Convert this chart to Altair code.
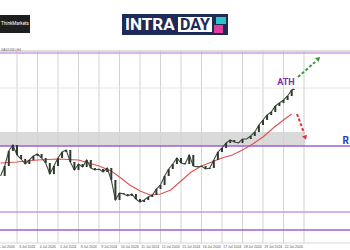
import altair as alt
import pandas as pd

# ---------------- data ----------------
bar_idx = list(range(-8, 136, 2)) + [135]
closes = [2324, 2334, 2349, 2355, 2345, 2341, 2336, 2340, 2344, 2346, 2342, 2337,
          2326, 2334, 2342, 2348, 2350, 2338, 2330, 2336, 2333, 2340, 2332, 2330,
          2331, 2328, 2332, 2320, 2300, 2307, 2306, 2304, 2306, 2301, 2298, 2300,
          2303, 2305, 2311, 2315, 2324, 2331, 2336, 2342, 2337, 2336, 2345, 2334,
          2333, 2334, 2331, 2332, 2340, 2348, 2352, 2357, 2360, 2358, 2357, 2361,
          2361, 2364, 2368, 2375, 2380, 2385, 2388, 2394, 2397, 2400, 2404, 2410, 2411]

ma_idx = [-8, 0, 10, 20, 30, 40, 46, 50, 55, 60, 65, 70, 75, 80, 85, 90, 95, 100,
          105, 110, 115, 120, 125, 130, 134]
ma_vals = [2337, 2338, 2340, 2341, 2340, 2334, 2329, 2323, 2315, 2309, 2305, 2306,
           2310, 2319, 2328, 2334, 2338, 2342, 2345, 2350, 2356, 2363, 2372, 2380, 2386]

grid_idx = [0, 10, 20, 30, 40, 50, 60, 70, 80, 90, 100, 110, 120, 130, 140]
date_idx = [-5, 5, 15, 25, 35, 45, 55, 65, 75, 85, 95, 105, 115, 125, 135]
date_labels = ["1 Jul 2024", "3 Jul 2024", "4 Jul 2024", "5 Jul 2024", "8 Jul 2024",
               "9 Jul 2024", "10 Jul 2024", "11 Jul 2024", "12 Jul 2024", "15 Jul 2024",
               "16 Jul 2024", "17 Jul 2024", "18 Jul 2024", "19 Jul 2024", "22 Jul 2024"]

top_level = 2447
frame_top = 2449
frame_bottom = 2257
resistance = 2354
zone_top = 2368
zone_end = 140.5
support_levels = [2288, 2270]
support_colors = ["#c898e6", "#9a62d8"]
hgrid = [2412]

green_arrow_i = [137.1, 145.4]
green_arrow_p = [2423, 2438]
green_head = (146.8, 2441)
red_arrow_i = [136.6, 140.0]
red_arrow_p = [2386, 2367]
red_head = (140.5, 2363)

ath_pos = (131.2, 2418)
r_pos = (158.8, 2359)
label_p = 2253

# ---------------- chart ----------------
xs = alt.Scale(domain=[-8.29, 162.44], nice=False, zero=False, padding=0)
ys = alt.Scale(domain=[2250, 2500], nice=False, zero=False, padding=0)

def X(f):
    return alt.X(f, type="quantitative", scale=xs, axis=None)

def Y(f):
    return alt.Y(f, type="quantitative", scale=ys, axis=None)

one = pd.DataFrame({"d": [0]})

price = pd.DataFrame({"i": bar_idx, "c": closes})
ma = pd.DataFrame({"i": ma_idx, "v": ma_vals})
grid = pd.DataFrame({"i": grid_idx, "y0": [frame_top] * len(grid_idx),
                     "y1": [frame_bottom] * len(grid_idx)})
dates = pd.DataFrame({"i": date_idx, "t": date_labels, "p": [label_p] * len(date_idx)})
band = pd.DataFrame({"x0": [-9], "x1": [zone_end], "lo": [resistance], "hi": [zone_top]})

layers = []

layers.append(alt.Chart(band).mark_rect(color="#dadada").encode(
    x=X("x0"), x2="x1", y=Y("lo"), y2="hi"))

layers.append(alt.Chart(grid).mark_rule(color="#d2d2d2", strokeWidth=1).encode(
    x=X("i"), y=Y("y0"), y2="y1"))

layers.append(alt.Chart(pd.DataFrame({"p": hgrid})).mark_rule(
    color="#e4e4e4", strokeWidth=1).encode(y=Y("p")))

layers.append(alt.Chart(pd.DataFrame({"p": [frame_top]})).mark_rule(
    color="#bdbdbd", strokeWidth=1).encode(y=Y("p")))
layers.append(alt.Chart(pd.DataFrame({"p": [top_level]})).mark_rule(
    color="#c9a2e2", strokeWidth=1.5).encode(y=Y("p")))
layers.append(alt.Chart(pd.DataFrame({"p": [resistance]})).mark_rule(
    color="#9d5fd8", strokeWidth=1.5).encode(y=Y("p")))
layers.append(alt.Chart(pd.DataFrame({"p": support_levels, "c": support_colors})).mark_rule(
    strokeWidth=1.5).encode(y=Y("p"), color=alt.Color("c:N", scale=None)))
layers.append(alt.Chart(pd.DataFrame({"p": [frame_bottom]})).mark_rule(
    color="#d6d6d6", strokeWidth=1).encode(y=Y("p")))

layers.append(alt.Chart(dates).mark_text(fontSize=3.5, color="#555555").encode(
    x=X("i"), y=Y("p"), text="t:N"))

layers.append(alt.Chart(ma).mark_line(color="#d9534f", strokeWidth=1.1).encode(
    x=X("i"), y=Y("v")))

layers.append(alt.Chart(price).mark_line(color="#3f4b3f", strokeWidth=1.1).encode(
    x=X("i"), y=Y("c")))
layers.append(alt.Chart(price).transform_window(
    o="lag(c)", sort=[alt.SortField("i")]).transform_filter(
    "datum.o != null").mark_bar(width=2, color="#2e3a2e").encode(
    x=X("i"), y=Y("o"), y2="c"))

layers.append(alt.Chart(pd.DataFrame({"i": green_arrow_i, "p": green_arrow_p})).mark_line(
    color="#3c9a3c", strokeWidth=2, strokeDash=[3, 2]).encode(x=X("i"), y=Y("p")))
layers.append(alt.Chart(pd.DataFrame({"i": [green_head[0]], "p": [green_head[1]]})).mark_point(
    shape="triangle", filled=True, size=28, angle=48, color="#3c9a3c", opacity=1).encode(
    x=X("i"), y=Y("p")))
layers.append(alt.Chart(pd.DataFrame({"i": red_arrow_i, "p": red_arrow_p})).mark_line(
    color="#e0303a", strokeWidth=2, strokeDash=[3, 2]).encode(x=X("i"), y=Y("p")))
layers.append(alt.Chart(pd.DataFrame({"i": [red_head[0]], "p": [red_head[1]]})).mark_point(
    shape="triangle", filled=True, size=28, angle=160, color="#e0303a", opacity=1).encode(
    x=X("i"), y=Y("p")))

layers.append(alt.Chart(pd.DataFrame({"i": [ath_pos[0]], "p": [ath_pos[1]], "t": ["ATH"]})).mark_text(
    fontSize=9, fontWeight="bold", color="#7d2fa6", font="Roboto").encode(
    x=X("i"), y=Y("p"), text="t:N"))
layers.append(alt.Chart(pd.DataFrame({"i": [r_pos[0]], "p": [r_pos[1]], "t": ["R"]})).mark_text(
    fontSize=10, fontWeight="bold", color="#2340c0", align="left", font="Roboto").encode(
    x=X("i"), y=Y("p"), text="t:N"))

# header logos
layers.append(alt.Chart(one).mark_text(fontSize=3.5, color="#666666", align="left").encode(
    x=alt.value(1), y=alt.value(50), text=alt.value("XAUUSD,H4")))
layers.append(alt.Chart(one).mark_rect(color="#1e1e1e").encode(
    x=alt.value(0), x2=alt.value(30), y=alt.value(15), y2=alt.value(33)))
layers.append(alt.Chart(one).mark_text(fontSize=4.6, color="#ffffff", align="center",
                                       baseline="middle", font="Roboto").encode(
    x=alt.value(15), y=alt.value(24), text=alt.value("ThinkMarkets")))
layers.append(alt.Chart(one).mark_rect(color="#1d2b57").encode(
    x=alt.value(122), x2=alt.value(228), y=alt.value(14), y2=alt.value(35)))
layers.append(alt.Chart(one).mark_text(fontSize=17, fontWeight="bold", color="#ffffff",
                                       align="left", baseline="middle", font="Roboto").encode(
    x=alt.value(125), y=alt.value(25), text=alt.value("INTRA")))
layers.append(alt.Chart(one).mark_rect(color="#ffffff").encode(
    x=alt.value(178), x2=alt.value(212), y=alt.value(17), y2=alt.value(32)))
layers.append(alt.Chart(one).mark_text(fontSize=16, fontWeight="bold", color="#1d2b57",
                                       align="center", baseline="middle", font="Roboto").encode(
    x=alt.value(195), y=alt.value(25), text=alt.value("DAY")))
layers.append(alt.Chart(one).mark_rect(color="#2cc4c9").encode(
    x=alt.value(216), x2=alt.value(226), y=alt.value(17), y2=alt.value(24)))
layers.append(alt.Chart(one).mark_rect(color="#e23e9b").encode(
    x=alt.value(214), x2=alt.value(223), y=alt.value(25), y2=alt.value(33)))

chart = alt.layer(*layers).properties(
    width=350, height=250, padding=0, background="#ffffff",
    autosize=alt.AutoSizeParams(type="none")
).configure_view(strokeWidth=0)

chart.save("out.html", embed_options={"renderer": "svg", "actions": False})
